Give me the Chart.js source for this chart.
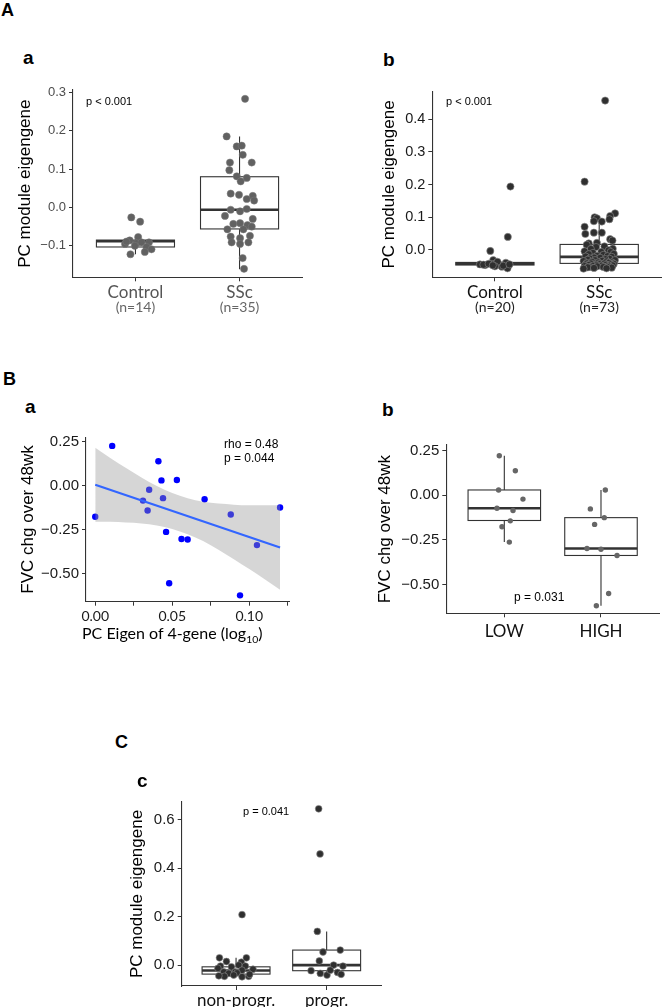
<!DOCTYPE html>
<html>
<head>
<meta charset="utf-8">
<script src="https://cdn.jsdelivr.net/npm/chart.js@4.4.0/dist/chart.umd.min.js"></script>
<style>
  body { margin: 0; width: 666px; height: 1007px; position: relative; background: #fff; overflow: hidden; font-family: "Liberation Sans", Arial, sans-serif; }
  canvas { position: absolute; }
  .t { position: absolute; line-height: 0; white-space: nowrap; }
  .t sub { font-size: 0.65em; vertical-align: -0.35em; line-height: 0; }
</style>
</head>
<body>
<script>
// ---------- A a : Control vs SSc ----------
const aaGroups = ['Control', 'SSc'];
const aaCounts = ['(n=14)', '(n=35)'];
const aaControl = [-0.026, -0.037, -0.077, -0.086, -0.095, -0.093, -0.091, -0.091, -0.103, -0.109, -0.116, -0.122, -0.100, -0.089];
const aaControlJitter = [-0.04, 0.045, 0.026, -0.055, -0.10, 0.01, 0.058, 0.13, 0.106, 0.154, 0.09, -0.048, -0.006, -0.087];
const aaSSc = [0.283, 0.185, 0.159, 0.161, 0.137, 0.117, 0.117, 0.097, 0.081, 0.077, 0.068, 0.036, 0.033, 0.030, 0.022, 0.018,
  -0.006, -0.010, -0.004, -0.022, -0.030, -0.043, -0.041, -0.046, -0.057, -0.057, -0.050, -0.076, -0.080, -0.074, -0.091, -0.091, -0.095, -0.132, -0.160];
const aaSScJitter = [0.053, -0.124, -0.027, 0.021, 0.031, -0.092, 0.117, -0.098, -0.027, 0.069, 0.011, -0.085, -0.005, 0.127, 0.069, 0.14,
  -0.085, 0.005, 0.069, -0.14, 0.127, -0.06, 0.005, 0.076, -0.117, 0.037, 0.117, -0.085, 0.005, 0.10, -0.076, 0.085, 0.005, 0.03, 0.043];
// [lower whisker, Q1, median, Q3, upper whisker]
const aaBoxes = [[-0.122, -0.103, -0.088, -0.085, -0.077], [-0.161, -0.056, -0.006, 0.080, 0.185]];
const aaTicks = [-0.1, 0, 0.1, 0.2, 0.3];

// ---------- A b : Control vs SSc ----------
const abGroups = ['Control', 'SSc'];
const abCounts = ['(n=20)', '(n=73)'];
const abControl = [0.194, 0.040, -0.003, -0.031, -0.044, -0.046, -0.041, -0.046, -0.039, -0.051, -0.051, -0.043, -0.036, -0.056, -0.045, -0.048, -0.042, -0.050, -0.044, -0.047];
const abControlJitter = [0.149, 0.124, -0.044, -0.016, -0.143, -0.092, 0.01, 0.048, 0.105, 0.121, 0.067, -0.029, 0.025, 0.121, -0.11, 0.08, -0.06, 0.0, 0.14, -0.02];
const abSSc = [0.457, 0.209, 0.112, 0.104, 0.100, 0.097, 0.094, 0.088, 0.087, 0.071, 0.053, 0.053, 0.049, 0.033, 0.029, 0.022, 0.020,
  0.016, 0.011, 0.009, 0.004, 0.003, -0.001, -0.004, -0.006, -0.006, -0.009, -0.012, -0.013, -0.015, -0.018, -0.019,
  -0.020, -0.021, -0.023, -0.024, -0.026, -0.027, -0.028, -0.030, -0.031, -0.031, -0.033, -0.034, -0.035, -0.036, -0.038,
  -0.038, -0.039, -0.040, -0.041, -0.041, -0.042, -0.043, -0.044, -0.044, -0.045, -0.046, -0.046, -0.047, -0.048, -0.048,
  -0.049, -0.050, -0.050, -0.051, -0.052, -0.052, -0.053, -0.054, -0.055, -0.056, -0.057];
const abSScJitter = [0.057, -0.14, 0.152, 0.105, -0.044, -0.022, 0.098, -0.051, 0.025, -0.14, -0.051, 0.025, -0.133, 0.105, 0.127, -0.022, -0.10,
  -0.12, 0.05, -0.03, 0.13, -0.08, 0.09, -0.14, 0.02, 0.11, -0.06, 0.14, -0.10, 0.04, -0.02, 0.08,
  -0.13, 0.12, -0.05, 0.01, -0.09, 0.10, 0.06, -0.11, 0.15, -0.04, 0.03, -0.15, 0.07, -0.07, 0.12,
  -0.01, 0.09, -0.12, 0.05, -0.08, 0.14, 0.00, -0.13, 0.11, -0.03, 0.06, -0.10, 0.13, -0.06, 0.02,
  -0.14, 0.08, -0.02, 0.10, -0.09, 0.04, -0.11, 0.12, -0.05, 0.07, -0.15];
const abBoxes = [[-0.056, -0.046, -0.042, -0.038, -0.031], [-0.057, -0.041, -0.021, 0.017, 0.104]];
const abTicks = [0, 0.1, 0.2, 0.3, 0.4];

// ---------- B a : FVC change vs PC eigen (log10) ----------
const baX = [0.011, 0.041, 0.043, 0.053, 0.035, 0.031, 0.034, 0.044, 0.071, 0.000, 0.046, 0.056, 0.060, 0.088, 0.120, 0.105, 0.048, 0.094];
const baY = [0.226, 0.139, 0.030, 0.032, -0.023, -0.085, -0.141, -0.071, -0.077, -0.177, -0.263, -0.303, -0.306, -0.164, -0.124, -0.338, -0.555, -0.624];
const fitX = [0, 0.12];
const fitY = [0.005, -0.352];
const bandX = [0, 0.01, 0.02, 0.03, 0.04, 0.05, 0.06, 0.07, 0.08, 0.09, 0.10, 0.11, 0.12];
const bandUpper = [0.215, 0.156, 0.100, 0.047, -0.002, -0.042, -0.072, -0.091, -0.102, -0.108, -0.112, -0.112, -0.112];
const bandLower = [-0.205, -0.206, -0.210, -0.215, -0.226, -0.246, -0.276, -0.315, -0.364, -0.418, -0.474, -0.532, -0.592];
const baXTicks = [0, 0.025, 0.05, 0.075, 0.1, 0.125];
const baXLabels = ['0.00', '', '0.05', '', '0.10', ''];
const fvcTicks = [-0.5, -0.25, 0, 0.25];

// ---------- B b : LOW vs HIGH ----------
const bbGroups = ['LOW', 'HIGH'];
const bbLow = [0.221, 0.137, 0.029, -0.022, -0.073, -0.086, -0.144, -0.177, -0.263];
const bbLowJitter = [-0.052, 0.114, -0.059, 0.193, -0.076, 0.09, 0.062, -0.024, 0.052];
const bbHigh = [0.029, -0.077, -0.126, -0.164, -0.299, -0.303, -0.338, -0.551, -0.620];
const bbHighJitter = [0.045, -0.110, 0.034, -0.066, -0.145, 0.0, 0.166, 0.079, -0.048];
const bbBoxes = [[-0.263, -0.142, -0.073, 0.029, 0.221], [-0.620, -0.338, -0.299, -0.126, 0.029]];

// ---------- C c : non-progr. vs progr. ----------
const ccGroups = ['non-progr.', 'progr.'];
const ccNon = [0.208, 0.030, 0.030, 0.015, 0.012, -0.004, -0.007, 0.000, -0.004, -0.017, -0.028, -0.028, -0.021, -0.034, -0.032, -0.046, -0.041, -0.048, -0.046, -0.038, -0.013, -0.044];
const ccNonJitter = [0.066, -0.183, 0.114, -0.106, 0.059, -0.172, -0.051, 0.029, 0.103, 0.187, -0.136, -0.007, 0.066, -0.081, 0.011, -0.128, -0.026, 0.066, 0.139, 0.15, -0.2, -0.19];
const ccProg = [0.644, 0.458, 0.139, 0.054, 0.017, -0.023, -0.034, -0.041, 0.000, -0.021, 0.062, -0.030, -0.004, -0.038];
const ccProgJitter = [-0.088, -0.073, -0.103, -0.04, -0.081, -0.172, -0.07, 0.004, 0.077, 0.04, 0.15, 0.12, 0.18, 0.16];
const ccBoxes = [[-0.048, -0.037, -0.022, -0.007, 0.030], [-0.041, -0.023, 0.000, 0.062, 0.139]];
const ccTicks = [0, 0.2, 0.4, 0.6];

// ---------- helpers ----------
const INK = '#333333';
const SANS = '"Liberation Sans", Arial, sans-serif';
const ROUND = 'Lato, "Open Sans", sans-serif';
const TITLE_SIZE = 17;

function jittered(values, jitter, group) {
  return values.map((v, i) => ({ x: group + jitter[i], y: v }));
}

function fmt(dec) {
  return v => (v < -1e-9 ? '\u2212' : '') + Math.abs(v).toFixed(dec);
}

function makeCanvas(box) {
  const c = document.createElement('canvas');
  c.width = box.w; c.height = box.h;
  c.style.left = box.l + 'px'; c.style.top = box.t + 'px';
  c.style.width = box.w + 'px'; c.style.height = box.h + 'px';
  document.body.appendChild(c);
  return c;
}

function put(html, x, baseline, size, opts = {}) {
  const d = document.createElement('div');
  d.className = 't';
  d.innerHTML = html;
  d.style.left = x + 'px';
  d.style.top = (baseline - 0.35 * size) + 'px';
  d.style.fontSize = size + 'px';
  d.style.fontFamily = opts.family || SANS;
  d.style.fontWeight = opts.weight || 'normal';
  d.style.color = opts.color || '#000';
  document.body.appendChild(d);
}

const boxPlugin = {
  id: 'boxes',
  beforeDatasetsDraw(chart, args, o) {
    if (!o || !o.stats) return;
    const { ctx, scales: { x, y } } = chart;
    ctx.save();
    ctx.strokeStyle = INK;
    o.stats.forEach((s, i) => {
      const c = x.getPixelForValue(i + 1);
      const l = x.getPixelForValue(i + 1 - 0.375);
      const r = x.getPixelForValue(i + 1 + 0.375);
      const [lo, q1, md, q3, hi] = s.map(v => y.getPixelForValue(v));
      ctx.lineWidth = 1.1;
      ctx.beginPath();
      ctx.moveTo(c, lo); ctx.lineTo(c, q1);
      ctx.moveTo(c, q3); ctx.lineTo(c, hi);
      ctx.stroke();
      ctx.fillStyle = '#fff';
      ctx.fillRect(l, q3, r - l, q1 - q3);
      ctx.strokeRect(l, q3, r - l, q1 - q3);
      ctx.lineWidth = 2.6;
      ctx.beginPath(); ctx.moveTo(l, md); ctx.lineTo(r, md); ctx.stroke();
    });
    ctx.restore();
  }
};

const subLabelPlugin = {
  id: 'subLabels',
  afterDraw(chart, args, o) {
    if (!o || !o.labels) return;
    const { ctx, scales: { x } } = chart;
    ctx.save();
    ctx.font = '14px ' + ROUND;
    ctx.fillStyle = o.color;
    ctx.textAlign = 'center';
    ctx.textBaseline = 'alphabetic';
    o.labels.forEach((t, i) => ctx.fillText(t, x.getPixelForValue(i + 1), chart.chartArea.bottom + 35));
    ctx.restore();
  }
};

function axisBase() {
  return {
    grid: { display: true, drawOnChartArea: false, drawTicks: true, tickLength: 4, color: INK, lineWidth: 1 },
    border: { display: true, color: INK, width: 1.1 }
  };
}

function yAxis(g, min, max, ticks, dec, title, tickColor, tickSize) {
  return Object.assign(axisBase(), {
    min, max,
    afterFit: s => { s.width = g.plot.l - g.canvas.l; },
    afterBuildTicks: s => { s.ticks = ticks.map(v => ({ value: v })); },
    ticks: { callback: fmt(dec), font: { family: SANS, size: tickSize }, color: tickColor, padding: 3 },
    title: { display: true, text: title, color: '#000', font: { family: SANS, size: TITLE_SIZE },
      padding: { top: g.yTitleX - g.canvas.l - TITLE_SIZE * 0.6, bottom: 0 } }
  });
}

function padding(g) {
  return { left: 0, top: g.plot.t - g.canvas.t, right: g.canvas.l + g.canvas.w - g.plot.r, bottom: 0 };
}

function boxChart(g, o) {
  const canvas = makeCanvas(g.canvas);
  return new Chart(canvas, {
    type: 'scatter',
    data: {
      datasets: o.series.map(s => ({
        data: s, pointRadius: o.radius, pointHoverRadius: o.radius,
        backgroundColor: o.fill, borderColor: o.edge, borderWidth: o.edgeWidth
      }))
    },
    options: {
      responsive: false, animation: false, devicePixelRatio: 1,
      layout: { padding: padding(g) },
      plugins: {
        legend: { display: false }, tooltip: { enabled: false },
        boxes: { stats: o.boxes },
        subLabels: { labels: o.counts, color: o.countColor }
      },
      scales: {
        x: Object.assign(axisBase(), {
          type: 'linear', min: 0.4, max: 2.6,
          afterFit: s => { s.height = g.canvas.t + g.canvas.h - g.plot.b; },
          afterBuildTicks: s => { s.ticks = o.groups.map((_, i) => ({ value: i + 1 })); },
          ticks: { callback: v => o.groups[Math.round(v) - 1], font: { family: ROUND, size: 17 },
            color: o.groupColor, padding: o.labelPad, maxRotation: 0, autoSkip: false }
        }),
        y: yAxis(g, o.min, o.max, o.ticks, o.dec, o.title, o.tickColor, o.tickSize)
      }
    },
    plugins: [boxPlugin, subLabelPlugin]
  });
}

// ---------- layout (page pixels) ----------
const geoAa = { canvas: { l: 0, t: 76, w: 330, h: 250 }, plot: { l: 73, t: 90, r: 302, b: 277.3 }, yTitleX: 25 };
const geoAb = { canvas: { l: 370, t: 76, w: 296, h: 250 }, plot: { l: 432.3, t: 91.7, r: 664, b: 277.3 }, yTitleX: 389.3 };
const geoBa = { canvas: { l: 0, t: 425, w: 330, h: 225 }, plot: { l: 86, t: 437.3, r: 289.3, b: 601.7 }, yTitleX: 28.3 };
const geoBb = { canvas: { l: 370, t: 425, w: 296, h: 225 }, plot: { l: 446.3, t: 445, r: 659, b: 613.3 }, yTitleX: 385 };
const geoCc = { canvas: { l: 120, t: 790, w: 280, h: 217 }, plot: { l: 181.7, t: 801.7, r: 381, b: 986 }, yTitleX: 137.3 };

boxChart(geoAa, {
  series: [jittered(aaControl, aaControlJitter, 1), jittered(aaSSc, aaSScJitter, 2)],
  boxes: aaBoxes, groups: aaGroups, counts: aaCounts, countColor: '#666',
  groupColor: '#555', tickColor: '#4d4d4d', tickSize: 13, labelPad: 1,
  radius: 3.6, fill: '#616161', edge: '#7a7a7a', edgeWidth: 0.5,
  min: -0.182, max: 0.306, ticks: aaTicks, dec: 1, title: 'PC module eigengene'
});

boxChart(geoAb, {
  series: [jittered(abControl, abControlJitter, 1), jittered(abSSc, abSScJitter, 2)],
  boxes: abBoxes, groups: abGroups, counts: abCounts, countColor: '#222',
  groupColor: '#111', tickColor: '#1a1a1a', tickSize: 14.5, labelPad: 1,
  radius: 3.6, fill: '#2f2f2f', edge: '#8a8a8a', edgeWidth: 0.6,
  min: -0.0835, max: 0.484, ticks: abTicks, dec: 1, title: 'PC module eigengene'
});

boxChart(geoBb, {
  series: [jittered(bbLow, bbLowJitter, 1), jittered(bbHigh, bbHighJitter, 2)],
  boxes: bbBoxes, groups: bbGroups, counts: null, countColor: '#000',
  groupColor: '#111', tickColor: '#1a1a1a', tickSize: 15, labelPad: 4,
  radius: 2.7, fill: '#666666', edge: '#666666', edgeWidth: 0,
  min: -0.662, max: 0.281, ticks: fvcTicks, dec: 2, title: 'FVC chg over 48wk'
});

boxChart(geoCc, {
  series: [jittered(ccNon, ccNonJitter, 1), jittered(ccProg, ccProgJitter, 2)],
  boxes: ccBoxes, groups: ccGroups, counts: null, countColor: '#000',
  groupColor: '#111', tickColor: '#1a1a1a', tickSize: 15, labelPad: 0,
  radius: 3.4, fill: '#2f2f2f', edge: '#8a8a8a', edgeWidth: 0.6,
  min: -0.086, max: 0.672, ticks: ccTicks, dec: 1, title: 'PC module eigengene'
});

// B a : scatter with linear fit and confidence band
new Chart(makeCanvas(geoBa.canvas), {
  type: 'scatter',
  data: {
    datasets: [
      { type: 'line', data: fitX.map((x, i) => ({ x, y: fitY[i] })), borderColor: '#3366FF', borderWidth: 2.2, pointRadius: 0, fill: false, order: 0 },
      { type: 'line', data: bandX.map((x, i) => ({ x, y: bandUpper[i] })), borderColor: 'transparent', borderWidth: 0, pointRadius: 0, cubicInterpolationMode: 'monotone', fill: false, order: 1 },
      { type: 'line', data: bandX.map((x, i) => ({ x, y: bandLower[i] })), borderColor: 'transparent', borderWidth: 0, pointRadius: 0, cubicInterpolationMode: 'monotone', fill: '-1', backgroundColor: 'rgba(153,153,153,0.4)', order: 1 },
      { data: baX.map((x, i) => ({ x, y: baY[i] })), pointRadius: 3.2, pointHoverRadius: 3.2, backgroundColor: '#0000ff', borderWidth: 0, order: 2 }
    ]
  },
  options: {
    responsive: false, animation: false, devicePixelRatio: 1,
    layout: { padding: padding(geoBa) },
    plugins: { legend: { display: false }, tooltip: { enabled: false } },
    scales: {
      x: Object.assign(axisBase(), {
        type: 'linear', min: -0.006, max: 0.126,
        afterFit: s => { s.height = geoBa.canvas.t + geoBa.canvas.h - geoBa.plot.b; },
        afterBuildTicks: s => { s.ticks = baXTicks.map(v => ({ value: v })); },
        ticks: { callback: (v, i) => baXLabels[i], font: { family: ROUND, size: 14 }, color: '#1a1a1a', padding: 2, maxRotation: 0, autoSkip: false }
      }),
      y: yAxis(geoBa, -0.66, 0.275, fvcTicks, 2, 'FVC chg over 48wk', '#1a1a1a', 15)
    }
  }
});

// ---------- text ----------
put('A', 1, 16, 18, { weight: 'bold' });
put('a', 23, 65, 19, { weight: 'bold' });
put('b', 383, 67, 19, { weight: 'bold' });
put('B', 3, 385, 18, { weight: 'bold' });
put('a', 25, 414, 19, { weight: 'bold' });
put('b', 382, 417, 19, { weight: 'bold' });
put('C', 115, 748, 18, { weight: 'bold' });
put('c', 137, 788, 19, { weight: 'bold' });

put('p &lt; 0.001', 86, 104.5, 11);
put('p &lt; 0.001', 446, 105, 11);
put('rho = 0.48', 224, 448, 12);
put('p = 0.044', 224, 462, 12);
put('p = 0.031', 514, 601.5, 12);
put('p = 0.041', 243, 815, 11);
put('PC Eigen of 4-gene (log<sub>10</sub>)', 82, 638.3, 16, { family: ROUND });
</script>
</body>
</html>
